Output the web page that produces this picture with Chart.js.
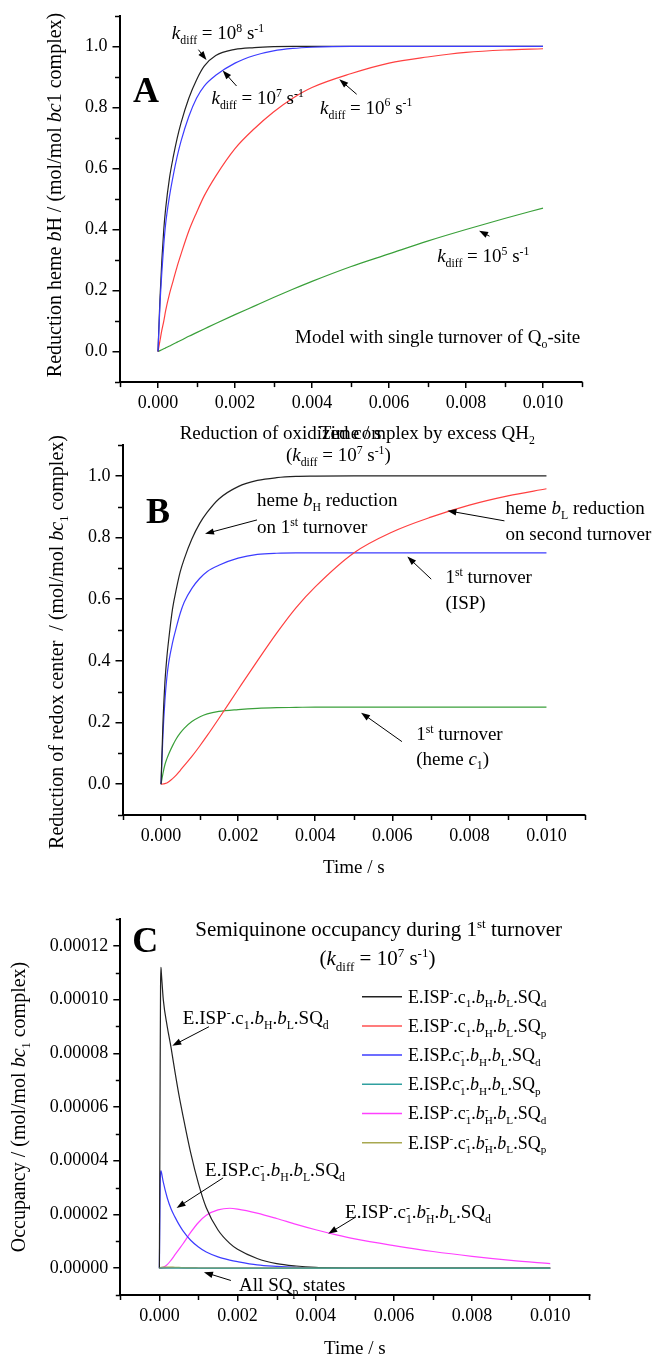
<!DOCTYPE html>
<html>
<head>
<meta charset="utf-8">
<script src="https://cdn.jsdelivr.net/npm/chart.js@4/dist/chart.umd.min.js"></script>
<style>
  body { margin: 0; background: #fff; width: 652px; height: 1359px; position: relative; overflow: hidden; }
  canvas { position: absolute; left: 0; }
</style>
</head>
<body>
<canvas id="chartA" width="652" height="445" style="top:0px"></canvas>
<canvas id="chartB" width="652" height="470" style="top:420px"></canvas>
<canvas id="chartC" width="652" height="479" style="top:880px"></canvas>
<script>
// ---------- data (time in s) ----------
const xTickValues = [0, 0.002, 0.004, 0.006, 0.008, 0.010];
const yTickValuesAB = [0, 0.2, 0.4, 0.6, 0.8, 1.0];
const yTickValuesC = [0, 0.00002, 0.00004, 0.00006, 0.00008, 0.00010, 0.00012];

// panel A: heme bH reduction for several kdiff
const timeA = [0, 0.00005, 0.0001, 0.00015, 0.0002, 0.0003, 0.0004, 0.0005, 0.0006, 0.0008, 0.001, 0.0012,
               0.0015, 0.002, 0.0025, 0.003, 0.0035, 0.004, 0.005, 0.006, 0.007, 0.008, 0.009, 0.010];
const kdiff1e8 = [0, 0.17, 0.30, 0.40, 0.47, 0.57, 0.64, 0.70, 0.75, 0.83, 0.89, 0.935,
                  0.97, 0.99, 0.996, 0.999, 1, 1, 1, 1, 1, 1, 1, 1];
const kdiff1e7 = [0, 0.15, 0.26, 0.35, 0.42, 0.51, 0.58, 0.64, 0.69, 0.77, 0.83, 0.87,
                  0.905, 0.945, 0.97, 0.985, 0.993, 0.997, 1, 1, 1, 1, 1, 1];
const kdiff1e6 = [0, 0.035, 0.07, 0.10, 0.135, 0.19, 0.235, 0.28, 0.32, 0.395, 0.455, 0.51,
                  0.575, 0.665, 0.73, 0.785, 0.83, 0.865, 0.91, 0.945, 0.965, 0.98, 0.988, 0.992];
const kdiff1e5 = [0, 0.003, 0.006, 0.009, 0.012, 0.018, 0.025, 0.031, 0.037, 0.05, 0.062, 0.074,
                  0.092, 0.121, 0.149, 0.177, 0.204, 0.23, 0.278, 0.32, 0.362, 0.40, 0.436, 0.47];

// panel B: redox centres, kdiff = 1e7
const timeB = [0, 0.00005, 0.0001, 0.00015, 0.0002, 0.0003, 0.0004, 0.0005, 0.0006, 0.0008, 0.001, 0.0012,
               0.0015, 0.002, 0.0025, 0.003, 0.0035, 0.004, 0.005, 0.006, 0.007, 0.008, 0.009, 0.010];
const hemeBH1st = [0, 0.20, 0.33, 0.41, 0.47, 0.57, 0.635, 0.69, 0.73, 0.795, 0.845, 0.882,
                   0.925, 0.965, 0.985, 0.994, 0.998, 0.999, 1, 1, 1, 1, 1, 1];
const hemeBL2nd = [0, 0.0005, 0.002, 0.004, 0.008, 0.018, 0.03, 0.045, 0.06, 0.09, 0.123, 0.158,
                   0.213, 0.307, 0.40, 0.49, 0.572, 0.64, 0.75, 0.818, 0.866, 0.905, 0.935, 0.958];
const isp1st = [0, 0.16, 0.27, 0.345, 0.395, 0.46, 0.51, 0.555, 0.59, 0.635, 0.667, 0.69,
                0.71, 0.733, 0.745, 0.749, 0.75, 0.75, 0.75, 0.75, 0.75, 0.75, 0.75, 0.75];
const hemeC1st = [0, 0.035, 0.063, 0.082, 0.098, 0.125, 0.148, 0.166, 0.181, 0.203, 0.218, 0.228,
                  0.236, 0.242, 0.246, 0.248, 0.249, 0.25, 0.25, 0.25, 0.25, 0.25, 0.25, 0.25];

// panel C: semiquinone occupancy
const timeC = [0, 0.00001, 0.00002, 0.00003, 0.00004, 0.00005, 0.0001, 0.0002, 0.0003, 0.0004, 0.0005, 0.0006,
               0.0008, 0.001, 0.0012, 0.0015, 0.0018, 0.002, 0.0025, 0.003, 0.0035, 0.004, 0.0045, 0.005,
               0.006, 0.007, 0.008, 0.009, 0.010];
const sqIspC1BhBlD = [0, 3.5e-5, 7.5e-5, 10.5e-5, 11.2e-5, 11.0e-5, 10.0e-5, 9.0e-5, 8.2e-5, 7.3e-5, 6.45e-5, 5.7e-5,
                      4.3e-5, 3.15e-5, 2.25e-5, 1.42e-5, 0.92e-5, 0.7e-5, 0.36e-5, 0.17e-5, 0.08e-5, 0.03e-5, 0.01e-5, 0,
                      0, 0, 0, 0, 0];
const sqIspC1BhBlP = [0, 0, 0, 0, 0, 0, 0.01e-5, 0.02e-5, 0.02e-5, 0.02e-5, 0.015e-5, 0.01e-5,
                      0.01e-5, 0.005e-5, 0, 0, 0, 0, 0, 0, 0, 0, 0, 0,
                      0, 0, 0, 0, 0];
const sqC1BhBlD = [0, 1.5e-5, 3.0e-5, 3.55e-5, 3.62e-5, 3.58e-5, 3.2e-5, 2.62e-5, 2.2e-5, 1.9e-5, 1.63e-5, 1.4e-5,
                   1.04e-5, 0.79e-5, 0.6e-5, 0.42e-5, 0.3e-5, 0.24e-5, 0.12e-5, 0.065e-5, 0.03e-5, 0.012e-5, 0.005e-5, 0,
                   0, 0, 0, 0, 0];
const sqC1BhBlP = [0, 0, 0, 0, 0, 0, 0, 0, 0, 0, 0, 0,
                   0, 0, 0, 0, 0, 0, 0, 0, 0, 0, 0, 0,
                   0, 0, 0, 0, 0];
const sqIspC1BhmBlD = [0, 0, 0, 0, 0, 0, 0.03e-5, 0.13e-5, 0.3e-5, 0.5e-5, 0.7e-5, 0.9e-5,
                       1.33e-5, 1.7e-5, 1.97e-5, 2.17e-5, 2.23e-5, 2.2e-5, 2.05e-5, 1.85e-5, 1.63e-5, 1.43e-5, 1.25e-5, 1.09e-5,
                       0.84e-5, 0.62e-5, 0.44e-5, 0.29e-5, 0.17e-5];
const sqIspC1BhmBlP = [0, 0, 0.01e-5, 0.02e-5, 0.03e-5, 0.03e-5, 0.04e-5, 0.04e-5, 0.04e-5, 0.03e-5, 0.03e-5, 0.02e-5,
                       0.01e-5, 0.005e-5, 0, 0, 0, 0, 0, 0, 0, 0, 0, 0,
                       0, 0, 0, 0, 0];

const namesA = ['kdiff = 1e8', 'kdiff = 1e7', 'kdiff = 1e6', 'kdiff = 1e5'];
const namesB = ['heme bH 1st turnover', 'heme bL 2nd turnover', 'ISP 1st turnover', 'heme c1 1st turnover'];
const namesC = [
  'E.ISP^{-}.c_{1}.*b*_{H}.*b*_{L}.SQ_{d}',
  'E.ISP^{-}.c_{1}.*b*_{H}.*b*_{L}.SQ_{p}',
  'E.ISP.c_{1}^{-}.*b*_{H}.*b*_{L}.SQ_{d}',
  'E.ISP.c_{1}^{-}.*b*_{H}.*b*_{L}.SQ_{p}',
  'E.ISP^{-}.c_{1}^{-}.*b*_{H}^{-}.*b*_{L}.SQ_{d}',
  'E.ISP^{-}.c_{1}^{-}.*b*_{H}^{-}.*b*_{L}.SQ_{p}'
];

const FONT = "'Liberation Serif', 'Times New Roman', serif";

// ---------- rich text: *italic*, _{sub}, ^{sup} (sup right after sub is stacked) ----------
function parseRich(s){
  const segs = [];
  let ital = false, buf = "", i = 0;
  const flush = () => { if(buf){ segs.push([buf, ital ? "i" : ""]); buf = ""; } };
  while(i < s.length){
    const c = s[i];
    if(c === "*"){ flush(); ital = !ital; i++; }
    else if((c === "_" || c === "^") && s[i + 1] === "{"){
      flush();
      const j = s.indexOf("}", i);
      let st = c === "_" ? "b" : "p";
      if(c === "^" && segs.length && segs[segs.length - 1][1].includes("b") && s[i - 1] === "}") st += "k";
      segs.push([s.slice(i + 2, j), st]);
      i = j + 1;
    }
    else { buf += c; i++; }
  }
  flush();
  return segs;
}

function drawRich(ctx, str, x, y, size, align, bold){
  const segs = parseRich(str);
  const parts = [];
  let cur = 0, prevStart = 0, prevW = 0;
  ctx.save();
  for(const [txt, st] of segs){
    const small = st.includes("b") || st.includes("p");
    const fs = small ? size * 0.62 : size;
    const font = (st.includes("i") ? "italic " : "") + (bold ? "bold " : "") + fs + "px " + FONT;
    ctx.font = font;
    const w = ctx.measureText(txt).width;
    let dx;
    if(st.includes("k")){ dx = prevStart; cur = prevStart + Math.max(prevW, w); }
    else { dx = cur; prevStart = cur; prevW = w; cur += w; }
    const dy = st.includes("b") ? size * 0.26 : (st.includes("p") ? -size * 0.38 : 0);
    parts.push({txt, font, dx, dy});
  }
  const x0 = align === "center" ? x - cur / 2 : (align === "right" ? x - cur : x);
  const base = y + size * 0.33;
  ctx.fillStyle = "#000";
  ctx.textAlign = "left";
  ctx.textBaseline = "alphabetic";
  for(const p of parts){
    ctx.font = p.font;
    ctx.fillText(p.txt, x0 + p.dx, base + p.dy);
  }
  ctx.restore();
}

function drawArrow(ctx, x1, y1, x2, y2){
  const a = Math.atan2(y2 - y1, x2 - x1), L = 9, W = 3.2;
  ctx.beginPath();
  ctx.moveTo(x1, y1);
  ctx.lineTo(x2 - Math.cos(a) * L * 0.7, y2 - Math.sin(a) * L * 0.7);
  ctx.stroke();
  ctx.beginPath();
  ctx.moveTo(x2, y2);
  ctx.lineTo(x2 - L * Math.cos(a) + W * Math.sin(a), y2 - L * Math.sin(a) - W * Math.cos(a));
  ctx.lineTo(x2 - L * Math.cos(a) - W * Math.sin(a), y2 - L * Math.sin(a) + W * Math.cos(a));
  ctx.closePath();
  ctx.fill();
}

// ---------- annotations (anchored on the chart's own scales) ----------
const NOTES = {
  chartA: {
    letter: {txt: "A", t: -0.00031, v: 0.855},
    xTitle: {txt: "Time / s", dy: 51},
    yTitle: {txt: "Reduction heme *b*H / (mol/mol *bc*1 complex)", dx: 65.5, dy: -4},
    minor: {x: 0.001, y: 0.1},
    texts: [
      {txt: "*k*_{diff} = 10^{8} s^{-1}", t: 0.00036, v: 1.043},
      {txt: "*k*_{diff} = 10^{7} s^{-1}", t: 0.00139, v: 0.832},
      {txt: "*k*_{diff} = 10^{6} s^{-1}", t: 0.00421, v: 0.80},
      {txt: "*k*_{diff} = 10^{5} s^{-1}", t: 0.00725, v: 0.313},
      {txt: "Model with single turnover of Q_{o}-site", t: 0.00356, v: 0.047}
    ],
    arrows: [
      [0.00105, 0.989, 0.00126, 0.955],
      [0.00204, 0.870, 0.00168, 0.921],
      [0.00516, 0.843, 0.00471, 0.892],
      [0.00861, 0.378, 0.00834, 0.396]
    ]
  },
  chartB: {
    letter: {txt: "B", t: -0.00008, v: 0.887},
    xTitle: {txt: "Time / s", dy: 52},
    yTitle: {txt: "Reduction of redox center  / (mol/mol *bc*_{1} complex)", dx: 66.5, dy: 12},
    minor: {x: 0.001, y: 0.1},
    texts: [
      {txt: "Reduction of oxidized complex by excess QH_{2}", t: 0.00509, v: 1.139, align: "center"},
      {txt: "(*k*_{diff} = 10^{7} s^{-1})", t: 0.0046, v: 1.068, align: "center"},
      {txt: "heme *b*_{H} reduction", t: 0.00249, v: 0.922},
      {txt: "on 1^{st} turnover", t: 0.00249, v: 0.835},
      {txt: "heme *b*_{L} reduction", t: 0.00894, v: 0.896},
      {txt: "on second turnover", t: 0.00894, v: 0.812},
      {txt: "1^{st} turnover", t: 0.00738, v: 0.673},
      {txt: "(ISP)", t: 0.00738, v: 0.59},
      {txt: "1^{st} turnover", t: 0.00662, v: 0.163},
      {txt: "(heme *c*_{1})", t: 0.00662, v: 0.084}
    ],
    arrows: [
      [0.00249, 0.857, 0.00114, 0.812],
      [0.00891, 0.854, 0.00743, 0.887],
      [0.00701, 0.665, 0.00639, 0.738],
      [0.00625, 0.138, 0.00519, 0.232]
    ]
  },
  chartC: {
    letter: {txt: "C", t: -0.00036, v: 12.2e-5},
    xTitle: {txt: "Time / s", dy: 53},
    yTitle: {txt: "Occupancy / (mol/mol *bc*_{1} complex)", dx: 102.3, dy: 0},
    minor: {x: 0.001, y: 0.00001},
    texts: [
      {txt: "Semiquinone occupancy during 1^{st} turnover", t: 0.00561, v: 12.63e-5, size: 21, align: "center"},
      {txt: "(*k*_{diff} = 10^{7} s^{-1})", t: 0.00558, v: 11.54e-5, size: 21, align: "center"},
      {txt: namesC[0], t: 0.0006, v: 9.34e-5},
      {txt: namesC[2], t: 0.00117, v: 3.65e-5},
      {txt: namesC[4], t: 0.00475, v: 2.09e-5},
      {txt: "All SQ_{p} states", t: 0.00204, v: -0.61e-5}
    ],
    arrows: [
      [0.00127, 8.99e-5, 0.00033, 8.28e-5],
      [0.00163, 3.36e-5, 0.00044, 2.24e-5],
      [0.00502, 1.90e-5, 0.00432, 1.28e-5],
      [0.00183, -0.46e-5, 0.00114, -0.15e-5]
    ],
    legend: {x1: 362, x2: 402, tx: 408, y0: 116.7, dy: 29.2, size: 18}
  }
};

const notesPlugin = {
  id: "notes",
  afterDraw(chart){
    const n = NOTES[chart.canvas.id];
    if(!n) return;
    const ctx = chart.ctx, xs = chart.scales.x, ys = chart.scales.y, ca = chart.chartArea;
    const px = t => xs.getPixelForValue(t), py = v => ys.getPixelForValue(v);
    ctx.save();

    // minor ticks
    ctx.strokeStyle = "#000";
    ctx.lineWidth = 1.5;
    const isMajor = (scale, v, step) => scale.ticks.some(tk => Math.abs(tk.value - v) < step * 0.01);
    const nx = Math.round((xs.max - xs.min) / n.minor.x);
    for(let i = 0; i <= nx; i++){
      const v = xs.min + i * n.minor.x;
      if(isMajor(xs, v, n.minor.x)) continue;
      const p = Math.round(px(v)) + 0.5;
      ctx.beginPath(); ctx.moveTo(p, ca.bottom); ctx.lineTo(p, ca.bottom + 5); ctx.stroke();
    }
    const ny = Math.round((ys.max - ys.min) / n.minor.y);
    for(let i = 0; i <= ny; i++){
      const v = ys.min + i * n.minor.y;
      if(isMajor(ys, v, n.minor.y)) continue;
      const p = Math.round(py(v)) + 0.5;
      ctx.beginPath(); ctx.moveTo(ca.left, p); ctx.lineTo(ca.left - 4.5, p); ctx.stroke();
    }

    // axis titles
    drawRich(ctx, n.xTitle.txt, (ca.left + ca.right) / 2, ca.bottom + n.xTitle.dy, 19, "center");
    ctx.save();
    ctx.translate(ca.left - n.yTitle.dx, (ca.top + ca.bottom) / 2 + n.yTitle.dy);
    ctx.rotate(-Math.PI / 2);
    drawRich(ctx, n.yTitle.txt, 0, 0, 20, "center");
    ctx.restore();

    // panel letter
    drawRich(ctx, n.letter.txt, px(n.letter.t), py(n.letter.v), 36, "center", true);

    // labels and arrows
    for(const tx of n.texts){
      drawRich(ctx, tx.txt, px(tx.t), py(tx.v), tx.size || 19, tx.align || "left");
    }
    ctx.strokeStyle = "#000";
    ctx.fillStyle = "#000";
    ctx.lineWidth = 1;
    for(const a of n.arrows){
      drawArrow(ctx, px(a[0]), py(a[1]), px(a[2]), py(a[3]));
    }

    // legend (panel C)
    if(n.legend){
      const lg = n.legend;
      chart.data.datasets.forEach((ds, i) => {
        const y = lg.y0 + i * lg.dy;
        ctx.strokeStyle = ds.borderColor;
        ctx.lineWidth = 1.5;
        ctx.beginPath(); ctx.moveTo(lg.x1, y); ctx.lineTo(lg.x2, y); ctx.stroke();
        drawRich(ctx, ds.label, lg.tx, y, lg.size, "left");
      });
    }
    ctx.restore();
  }
};

function buildChart(id, cfg){
  const datasets = [];
  for(let i in cfg.series){
    const vals = cfg.series[i];
    datasets.push({
      label: cfg.names[i],
      data: cfg.time.map((t, j) => ({x: t, y: vals[j]})),
      borderColor: cfg.colors[i],
      borderWidth: 1.2,
      pointRadius: 0,
      fill: false,
      cubicInterpolationMode: "monotone",
      order: cfg.orders[i]
    });
  }
  const tickFont = {family: FONT, size: 18};
  new Chart(document.getElementById(id).getContext("2d"), {
    type: "line",
    data: {datasets: datasets},
    options: {
      responsive: false,
      animation: false,
      events: [],
      layout: {padding: {top: cfg.padTop, right: cfg.padRight, left: 0, bottom: 0}},
      plugins: {legend: {display: false}, tooltip: {enabled: false}},
      scales: {
        x: {
          type: "linear", min: -0.001, max: 0.011,
          afterBuildTicks: s => { s.ticks = xTickValues.map(v => ({value: v})); },
          afterFit: s => { s.height = cfg.xHeight; },
          ticks: {callback: v => v.toFixed(3), font: tickFont, color: "#000", padding: 4, maxRotation: 0, autoSkip: false},
          grid: {drawOnChartArea: false, tickLength: 6, color: "#000", lineWidth: 1.5},
          border: {display: true, color: "#000", width: 2}
        },
        y: {
          type: "linear", min: cfg.yMin, max: cfg.yMax,
          afterBuildTicks: s => { s.ticks = cfg.yTicks.map(v => ({value: v})); },
          afterFit: s => { s.width = cfg.yWidth; },
          ticks: {callback: v => v.toFixed(cfg.yDigits), font: tickFont, color: "#000", padding: 5, autoSkip: false},
          grid: {drawOnChartArea: false, tickLength: 7, color: "#000", lineWidth: 1.5},
          border: {display: true, color: "#000", width: 2}
        }
      }
    },
    plugins: [notesPlugin]
  });
}

buildChart("chartA", {
  time: timeA,
  series: [kdiff1e8, kdiff1e7, kdiff1e6, kdiff1e5],
  names: namesA,
  colors: ["#222222", "#3c3cff", "#ff4040", "#3aa03a"],
  orders: [1, 0, 2, 3],
  yMin: -0.1, yMax: 1.1, yTicks: yTickValuesAB, yDigits: 1,
  padTop: 12.5, padRight: 70.5, yWidth: 119.5, xHeight: 62.9
});

buildChart("chartB", {
  time: timeB,
  series: [hemeBH1st, hemeBL2nd, isp1st, hemeC1st],
  names: namesB,
  colors: ["#222222", "#ff4040", "#3c3cff", "#3aa03a"],
  orders: [0, 1, 2, 3],
  yMin: -0.1, yMax: 1.1, yTicks: yTickValuesAB, yDigits: 1,
  padTop: 25, padRight: 67, yWidth: 122.5, xHeight: 75
});

buildChart("chartC", {
  time: timeC,
  series: [sqIspC1BhBlD, sqIspC1BhBlP, sqC1BhBlD, sqC1BhBlP, sqIspC1BhmBlD, sqIspC1BhmBlP],
  names: namesC,
  colors: ["#222222", "#ff5050", "#3c3cff", "#30a0a0", "#ff40ff", "#a8a850"],
  orders: [2, 2, 2, 0, 2, 1],
  yMin: -0.00001, yMax: 0.00013, yTicks: yTickValuesC, yDigits: 5,
  padTop: 39, padRight: 62.7, yWidth: 120.3, xHeight: 64
});
</script>
</body>
</html>
